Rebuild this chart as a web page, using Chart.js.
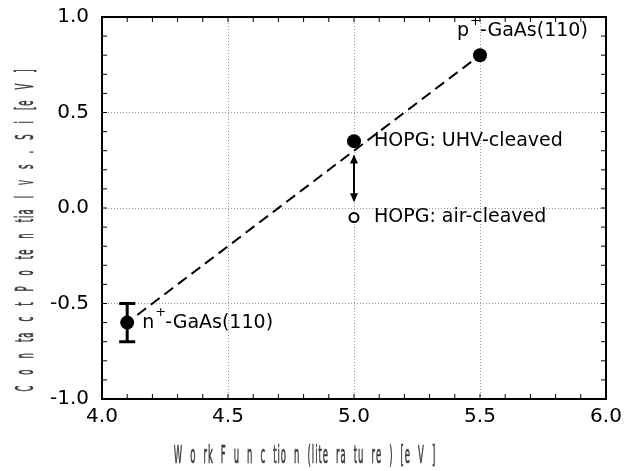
<!DOCTYPE html>
<html lang="en">
<head>
  <meta charset="UTF-8" />
  <title>Contact potential vs work function</title>
  <script src="https://cdn.jsdelivr.net/npm/chart.js"></script>
  <style>
    html, body { margin: 0; padding: 0; background: white; }
    #wrap { width: 625px; height: 471px; }
  </style>
</head>
<body>
  <div id="wrap"><canvas id="grafico" width="625" height="471"></canvas></div>

  <script>
    // measured samples (filled symbols)
    const workFn   = [4.1, 5.0, 5.5];
    const contact  = [-0.6, 0.35, 0.8];
    const names    = ['n-GaAs(110)', 'HOPG: UHV-cleaved', 'p-GaAs(110)'];
    // air-cleaved HOPG (open symbol)
    const airX = [5.0];
    const airY = [-0.05];
    const airName = 'HOPG: air-cleaved';
    // error bar on the n-GaAs point
    const errX = [4.1];
    const errLo = [-0.7];
    const errHi = [-0.5];
    // dashed guide line
    const fitX = [4.14, 5.5];
    const fitY = [-0.56, 0.8];
    // double arrow between UHV and air cleaved
    const arrowX = 5.0;
    const arrowFrom = 0.28;
    const arrowTo = 0.03;
    // axis ticks
    const xTicks = [4.0, 4.5, 5.0, 5.5, 6.0];
    const yTicks = [-1.0, -0.5, 0.0, 0.5, 1.0];
    const xTitle = 'W o rk F u n c tio n (lite ra tu re ) [e V ]';
    const yTitle = 'C o n ta c t P o te n tia l v s . S i [e V ]';

    const FONT = "'DejaVu Sans', sans-serif";

    // narrow, widely spaced axis title, drawn glyph by glyph, centred on (0,0)
    function spacedTitle(ctx, txt, sx, gap, space) {
      ctx.font = '25px ' + FONT;
      const adv = ch => ch === ' ' ? space : ctx.measureText(ch).width * sx + gap;
      let total = 0;
      for (const ch of txt) total += adv(ch);
      let x = -total / 2;
      ctx.lineWidth = 0.7;
      for (const ch of txt) {
        if (ch !== ' ') {
          ctx.save();
          ctx.translate(x, 0);
          ctx.scale(sx, 1);
          ctx.fillText(ch, 0, 0);
          ctx.strokeText(ch, 0, 0);
          ctx.restore();
        }
        x += adv(ch);
      }
    }

    const extras = {
      id: 'extras',
      afterDraw(chart) {
        const ctx = chart.ctx;
        const xs = chart.scales.x, ys = chart.scales.y;
        const a = chart.chartArea;
        ctx.save();

        // frame
        ctx.strokeStyle = '#000';
        ctx.lineWidth = 2;
        ctx.strokeRect(a.left, a.top, a.right - a.left, a.bottom - a.top);

        // minor ticks every 0.1 on all four sides
        ctx.lineWidth = 1;
        for (let i = 0; i <= 20; i++) {
          const px = xs.getPixelForValue(4 + i * 0.1);
          ctx.beginPath();
          ctx.moveTo(px, a.bottom); ctx.lineTo(px, a.bottom - 5);
          ctx.moveTo(px, a.top); ctx.lineTo(px, a.top + 5);
          ctx.stroke();
          const py = ys.getPixelForValue(-1 + i * 0.1);
          ctx.beginPath();
          ctx.moveTo(a.left, py); ctx.lineTo(a.left + 5, py);
          ctx.moveTo(a.right, py); ctx.lineTo(a.right - 5, py);
          ctx.stroke();
        }

        // error bar
        ctx.lineWidth = 3;
        errX.forEach((x, i) => {
          const px = xs.getPixelForValue(x);
          const p1 = ys.getPixelForValue(errLo[i]);
          const p2 = ys.getPixelForValue(errHi[i]);
          ctx.beginPath();
          ctx.moveTo(px, p1); ctx.lineTo(px, p2);
          ctx.moveTo(px - 8, p1); ctx.lineTo(px + 8, p1);
          ctx.moveTo(px - 8, p2); ctx.lineTo(px + 8, p2);
          ctx.stroke();
        });

        // double arrow
        const ax = xs.getPixelForValue(arrowX);
        const ay1 = ys.getPixelForValue(arrowFrom);
        const ay2 = ys.getPixelForValue(arrowTo);
        ctx.lineWidth = 2;
        ctx.beginPath();
        ctx.moveTo(ax, ay1 + 2); ctx.lineTo(ax, ay2 - 2);
        ctx.stroke();
        ctx.fillStyle = '#000';
        ctx.beginPath();
        ctx.moveTo(ax, ay1); ctx.lineTo(ax - 4, ay1 + 9); ctx.lineTo(ax + 4, ay1 + 9); ctx.closePath();
        ctx.moveTo(ax, ay2); ctx.lineTo(ax - 4, ay2 - 9); ctx.lineTo(ax + 4, ay2 - 9); ctx.closePath();
        ctx.fill();

        // point labels
        ctx.fillStyle = '#000';
        ctx.textBaseline = 'middle';
        const withSup = (txt, x, y) => {
          ctx.font = '19px ' + FONT;
          const first = txt[0];
          ctx.fillText(first, x, y);
          let w = ctx.measureText(first).width + 1;
          ctx.font = '13px ' + FONT;
          ctx.fillText('+', x + w, y - 10);
          w += ctx.measureText('+').width - 1;
          ctx.font = '19px ' + FONT;
          ctx.fillText(txt.slice(1), x + w, y);
        };
        withSup(names[0], xs.getPixelForValue(workFn[0]) + 15, ys.getPixelForValue(contact[0]));
        ctx.font = '19px ' + FONT;
        ctx.fillText(names[1], xs.getPixelForValue(workFn[1]) + 20, ys.getPixelForValue(contact[1]));
        ctx.fillText(airName, xs.getPixelForValue(airX[0]) + 20, ys.getPixelForValue(airY[0]));
        withSup(names[2], xs.getPixelForValue(workFn[2]) - 23, ys.getPixelForValue(contact[2]) - 24);

        // axis titles
        ctx.fillStyle = '#3a3a3a';
        ctx.strokeStyle = '#3a3a3a';
        ctx.textAlign = 'left';
        ctx.textBaseline = 'alphabetic';
        ctx.save();
        ctx.translate(305, 463);
        spacedTitle(ctx, xTitle, 0.34, 1, 7);
        ctx.restore();
        ctx.save();
        ctx.translate(33, 230);
        ctx.rotate(-Math.PI / 2);
        spacedTitle(ctx, yTitle, 0.34, 1, 10);
        ctx.restore();

        ctx.restore();
      }
    };

    const gridColor = c => (c.tick && [-1, 1, 4, 6].includes(c.tick.value)) ? 'rgba(0,0,0,0)' : '#999';

    new Chart(document.getElementById('grafico'), {
      type: 'scatter',
      data: {
        datasets: [
          {
            label: 'guide',
            type: 'line',
            data: fitX.map((x, i) => ({ x, y: fitY[i] })),
            borderColor: '#000',
            borderWidth: 2,
            borderDash: [11, 6],
            pointRadius: 0,
            fill: false
          },
          {
            label: 'samples',
            data: workFn.map((x, i) => ({ x, y: contact[i] })),
            backgroundColor: '#000',
            borderColor: '#000',
            pointRadius: 7,
            pointBorderWidth: 0
          },
          {
            label: 'air',
            data: airX.map((x, i) => ({ x, y: airY[i] })),
            backgroundColor: '#fff',
            borderColor: '#000',
            pointRadius: 4.5,
            pointBorderWidth: 2
          }
        ]
      },
      options: {
        responsive: false,
        animation: false,
        layout: { autoPadding: false, padding: { top: 17, right: 19, left: 0, bottom: 0 } },
        plugins: { legend: { display: false }, tooltip: { enabled: false } },
        scales: {
          x: {
            type: 'linear',
            min: 4, max: 6,
            afterBuildTicks: s => { s.ticks = xTicks.map(v => ({ value: v })); },
            afterFit: s => { s.height = 72; s.paddingLeft = 0; s.paddingRight = 0; s.paddingTop = 0; s.paddingBottom = 0; },
            grid: { color: gridColor, drawTicks: false, lineWidth: 1 },
            border: { display: false, dash: [1, 2] },
            ticks: {
              padding: 6,
              color: '#000',
              font: { family: FONT, size: 20 },
              maxRotation: 0,
              callback: v => v.toFixed(1)
            }
          },
          y: {
            type: 'linear',
            min: -1, max: 1,
            afterBuildTicks: s => { s.ticks = yTicks.map(v => ({ value: v })); },
            afterFit: s => { s.width = 102; s.paddingTop = 0; s.paddingBottom = 0; s.paddingLeft = 0; s.paddingRight = 0; },
            grid: { color: gridColor, drawTicks: false, lineWidth: 1 },
            border: { display: false, dash: [1, 2] },
            ticks: {
              padding: 13,
              color: '#000',
              font: { family: FONT, size: 20 },
              callback: v => v.toFixed(1)
            }
          }
        }
      },
      plugins: [extras]
    });
  </script>
</body>
</html>
